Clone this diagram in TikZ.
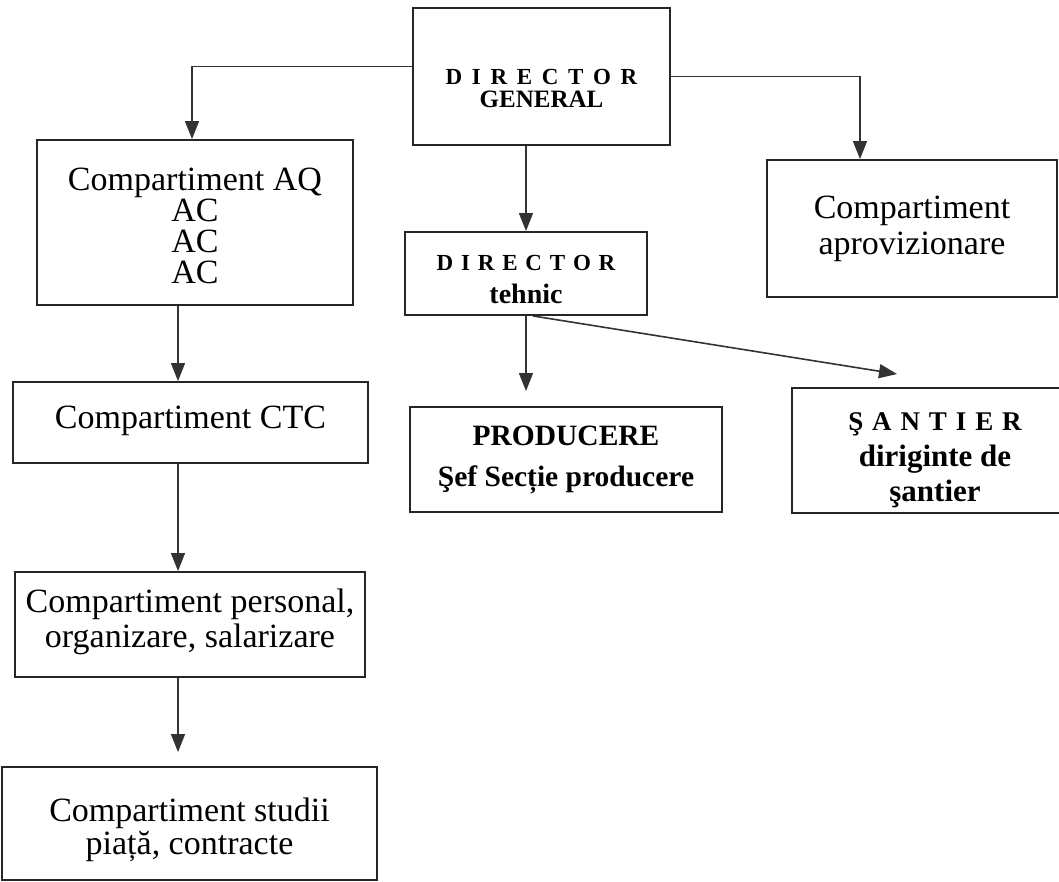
\documentclass[tikz,border=0pt]{standalone}
\usepackage{fontspec}
\setmainfont{Liberation Serif}
\usetikzlibrary{arrows.meta,calc}
\begin{document}
\begin{tikzpicture}[x=0.5pt,y=-0.5pt,
  box/.style={draw=black!85,line width=0.95pt,inner sep=0pt,align=center,fill=white},
  reg/.style={box,font=\fontsize{17}{17.5}\selectfont},
  bld/.style={box,font=\bfseries\fontsize{14.75}{20.5}\selectfont},
  arr/.style={draw=black!80,line width=0.8pt,-{Triangle[width=7pt,length=9pt]}},
  lnk/.style={draw=black!80,line width=0.8pt}]
\useasboundingbox (0,0) rectangle (1059,882);
\clip (0,0) rectangle (1059,882);
\fill[white] (0,0) rectangle (1059,882);

% nodes
\node[box,minimum width=128.5pt,minimum height=68.5pt,font=\bfseries\fontsize{12.5}{11.5}\selectfont] (DG) at (541.5,76.5)
  {\rule{0pt}{20pt}{\fontsize{11.5}{11.5}\selectfont\spaceskip=0.42em D I R E C T O R}\\GENERAL};
\node[reg,minimum width=158pt,minimum height=82.5pt,font=\fontsize{17}{15.5}\selectfont] (AQ) at (195,222.5)
  {\rule{0pt}{15pt}Compartiment AQ\\AC\\AC\\AC};
\node[reg,minimum width=177.5pt,minimum height=40.5pt] (CTC) at (190.5,422.5)
  {Compartiment CTC\rule[-5pt]{0pt}{5pt}};
\node[reg,minimum width=175pt,minimum height=52.5pt] (PER) at (190,624.5)
  {Compartiment personal,\\organizare, salarizare\rule[-6pt]{0pt}{6pt}};
\node[reg,minimum width=187.5pt,minimum height=56.5pt,font=\fontsize{17}{16.5}\selectfont] (ST) at (189.5,823.5)
  {\rule{0pt}{18pt}Compartiment studii\\piață, contracte};
\node[reg,minimum width=145pt,minimum height=68.5pt,font=\fontsize{17}{18}\selectfont] (AP) at (912,228.5)
  {Compartiment\\aprovizionare};
\node[box,minimum width=121pt,minimum height=41.5pt,font=\bfseries\fontsize{14}{16.5}\selectfont] (DT) at (526,273.5)
  {\rule{0pt}{14pt}{\fontsize{11.5}{11.5}\selectfont\spaceskip=0.34em D I R E C T O R}\\tehnic};
\node[bld,minimum width=156pt,minimum height=52.5pt] (PR) at (566,459.5)
  {PRODUCERE\\Şef Secție producere};
\node[box,minimum width=143pt,minimum height=62.5pt,font=\bfseries\fontsize{15.5}{17.75}\selectfont] (SA) at (935,450.5)
  {\rule{0pt}{19pt}{\fontsize{13.5}{13.5}\selectfont\spaceskip=0.33em Ş A N T I E R}\\diriginte de\\şantier};

\coordinate (spine) at (178,0);

% connectors
\draw[arr] ([yshift=5pt]DG.west) -| ([xshift=-1.5pt]AQ.north);
\draw[arr] (DG.east) -| ([xshift=-26pt]AP.north);
\draw[arr] (DG.south -| DT.north) -- (DT.north);
\draw[arr,shorten >=7.5pt] (DT.south) -- (DT.south |- PR.north);
\draw[arr] ([xshift=3.5pt]DT.south) -- ([xshift=-19pt,yshift=6.5pt]SA.north);
\draw[arr] (AQ.south -| spine) -- (CTC.north -| spine);
\draw[arr] (CTC.south -| spine) -- (PER.north -| spine);
\draw[arr,shorten >=7pt] (PER.south -| spine) -- (ST.north -| spine);
\end{tikzpicture}
\end{document}
